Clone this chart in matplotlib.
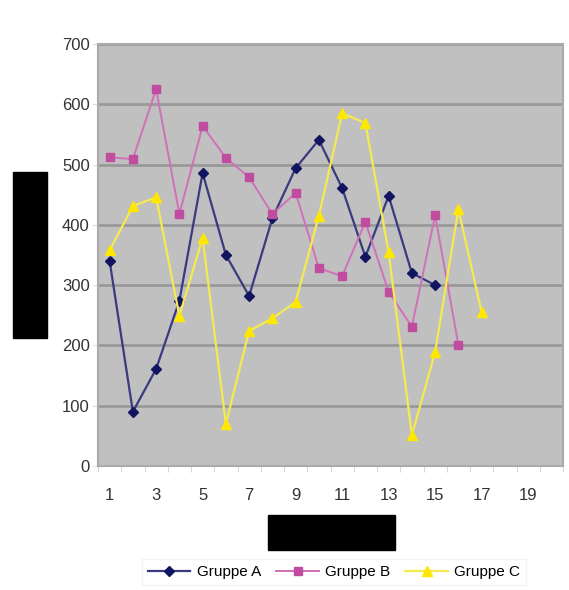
import matplotlib.pyplot as plt
from matplotlib.patches import Rectangle

plt.rcParams['font.family'] = ['Liberation Sans', 'DejaVu Sans']

x_a = list(range(1, 16))
gruppe_a = [340, 90, 161, 274, 486, 350, 282, 411, 494, 541, 461, 347, 448, 320, 300]
x_b = list(range(1, 17))
gruppe_b = [512, 509, 625, 418, 564, 511, 479, 418, 453, 328, 315, 405, 289, 231, 416, 201]
x_c = list(range(1, 18))
gruppe_c = [358, 431, 446, 249, 378, 70, 224, 245, 272, 415, 585, 569, 355, 51, 189, 426, 255]
xticks = list(range(1, 20, 2))
yticks = list(range(0, 701, 100))

fig = plt.figure(figsize=(5.69, 5.90), dpi=100)
W, H = 569, 590
ax = fig.add_axes([98 / W, 1 - 466 / H, (563 - 98) / W, (466 - 44) / H])
ax.set_facecolor('#c0c0c0')

ax.plot(x_a, gruppe_a, color='#3a3a80', lw=1.6, marker='D', ms=5.5,
        mfc='#111560', mec='#111560', label='Gruppe A', zorder=3)
ax.plot(x_b, gruppe_b, color='#d070b8', lw=1.4, marker='s', ms=5.5,
        mfc='#c04ca0', mec='#c04ca0', label='Gruppe B', zorder=3)
ax.plot(x_c, gruppe_c, color='#f5ea50', lw=1.6, marker='^', ms=7,
        mfc='#ffe800', mec='#ffe800', label='Gruppe C', zorder=3)

ax.set_xlim(0.5, 20.5)
ax.set_ylim(0, 700)
ax.set_yticks(yticks)
ax.set_xticks(xticks)
ax.set_xticks([i + 0.5 for i in range(0, 21)], minor=True)
ax.tick_params(axis='x', which='major', length=0, pad=16, labelsize=12, colors='#333333')
ax.tick_params(axis='x', which='minor', length=4, color='#cccccc')
ax.tick_params(axis='y', length=4, color='#e0e0e0', pad=2, labelsize=12, colors='#333333')
ax.grid(axis='y', color='#999999', lw=2)
ax.set_axisbelow(True)
for s in ax.spines.values():
    s.set_color('#aaaaaa')
    s.set_linewidth(1.5)

fig.patches.append(Rectangle((13 / W, 1 - 338 / H), 34 / W, 166 / H,
                             transform=fig.transFigure, color='black'))
fig.patches.append(Rectangle((268 / W, 1 - 550 / H), 127 / W, 35 / H,
                             transform=fig.transFigure, color='black'))

fig.legend(loc='center', bbox_to_anchor=(334 / W, 1 - 572 / H), ncol=3,
           frameon=True, handlelength=2.8, columnspacing=1.0,
           handletextpad=0.4, edgecolor='#f0f0f0', fancybox=False,
           prop={'size': 11})

fig.savefig('out.png', dpi=100)
